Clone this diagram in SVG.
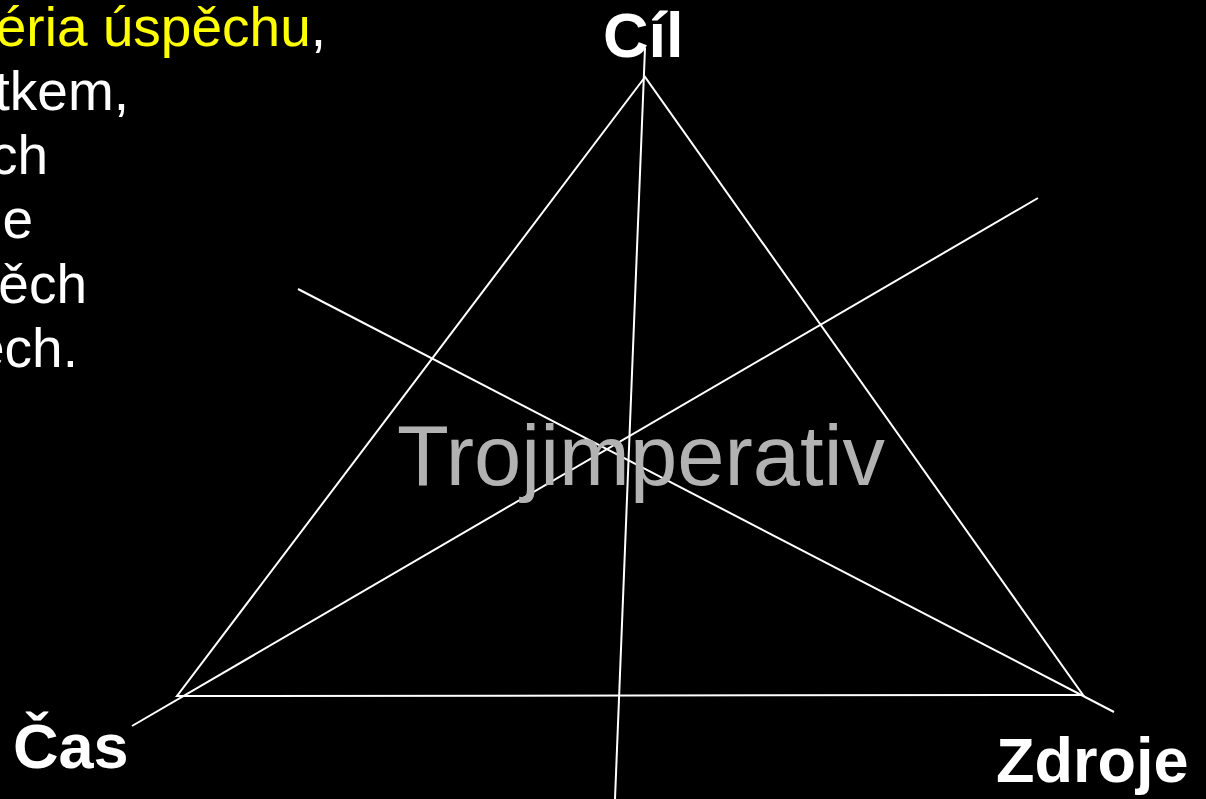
<svg xmlns="http://www.w3.org/2000/svg" width="1206" height="799" viewBox="0 0 1206 799">
<style>
.ln{stroke:#fff;stroke-width:2;fill:none}
.lab{font-family:"Liberation Sans",Arial,sans-serif;font-weight:bold;fill:#fff;font-size:63px}
.body{font-family:"Liberation Sans",Arial,sans-serif;fill:#fff;font-size:55px}
</style>
<rect width="1206" height="799" fill="#000"/>
<g id="connectors">
<polygon class="ln" points="645,77 177,696 1083,695"/>
<line class="ln" x1="645" y1="48" x2="615" y2="799"/>
<line class="ln" x1="298" y1="289" x2="1114" y2="712"/>
<line class="ln" x1="1038" y1="198" x2="132" y2="726"/>
</g>
<g id="text-left" class="body" text-anchor="end">
<text x="326" y="46"><tspan fill="#ffff00">éria úspěchu</tspan>,</text>
<text x="129" y="110">tkem,</text>
<text x="48" y="174">ch</text>
<text x="33" y="238">e</text>
<text x="87" y="303">ěch</text>
<text x="78" y="367">ěch.</text>
</g>
<g id="node-cil"><text class="lab" x="603" y="57">Cíl</text></g>
<g id="node-cas"><text class="lab" x="13" y="768">Čas</text></g>
<g id="node-zdroje"><text class="lab" x="996" y="782">Zdroje</text></g>
<g id="center"><text x="397" y="485" font-family="Liberation Sans,Arial,sans-serif" font-size="85" fill="#b2b2b2">Trojimperativ</text></g>
</svg>
